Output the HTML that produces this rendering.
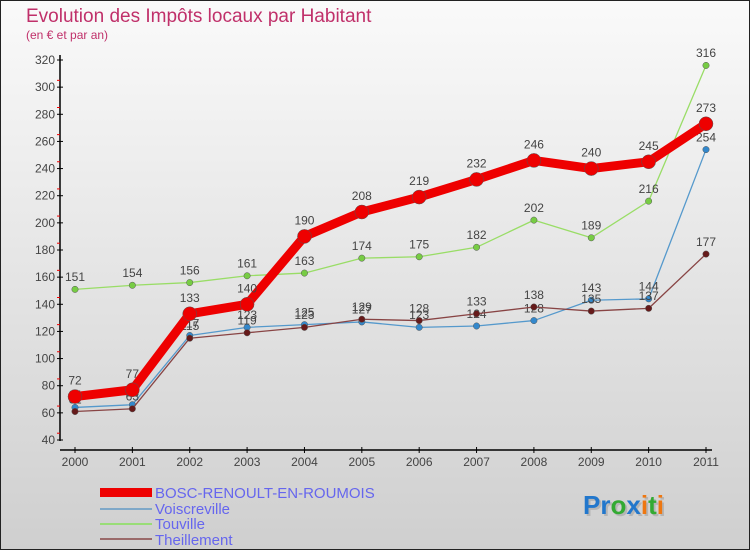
<!DOCTYPE html>
<html><head><meta charset="utf-8"><style>
body{margin:0}
svg{display:block;font-family:"Liberation Sans",sans-serif}
</style></head><body>
<svg id="chart" width="750" height="550" viewBox="0 0 750 550" xmlns="http://www.w3.org/2000/svg">
<defs><linearGradient id="bg" x1="0" y1="0" x2="0" y2="1"><stop offset="0" stop-color="#fafafa"/><stop offset="1" stop-color="#cfcfcf"/></linearGradient></defs>
<rect x="0.5" y="0.5" width="749" height="549" fill="url(#bg)" stroke="#222"/>
<text x="26" y="22" font-size="19" fill="#c0306a">Evolution des Impôts locaux par Habitant</text>
<text x="26" y="39" font-size="12" fill="#c0306a">(en € et par an)</text>
<g id="axes"></g>
<g id="series"></g>
<g id="legend">
<rect x="100" y="488" width="52" height="9" fill="#ee0000"/>
<text x="155" y="498" font-size="15" fill="#6666ee">BOSC-RENOULT-EN-ROUMOIS</text>
<line x1="100" y1="509" x2="152" y2="509" stroke="#7fa8c8" stroke-width="2"/>
<text x="155" y="514" font-size="15" fill="#6666ee">Voiscreville</text>
<line x1="100" y1="524" x2="152" y2="524" stroke="#99dd77" stroke-width="2"/>
<text x="155" y="529" font-size="15" fill="#6666ee">Touville</text>
<line x1="100" y1="539" x2="152" y2="539" stroke="#9a6a6a" stroke-width="2"/>
<text x="155" y="545" font-size="15" fill="#6666ee">Theillement</text>
</g>
<g font-size="26" font-weight="bold">
<text x="585" y="516" fill="#999" opacity="0.5">Proxiti</text>
<text x="583" y="514"><tspan fill="#2277cc">Pr</tspan><tspan fill="#33aa33">o</tspan><tspan fill="#2277cc">x</tspan><tspan fill="#ee7711">i</tspan><tspan fill="#33aa33">t</tspan><tspan fill="#ee7711">i</tspan></text>
</g>
</svg>
<script>
const years = ["2000","2001","2002","2003","2004","2005","2006","2007","2008","2009","2010","2011"];
const yTicks = [40,60,80,100,120,140,160,180,200,220,240,260,280,300,320];
const bosc = [72,77,133,140,190,208,219,232,246,240,245,273];
const voiscreville = [64,66,117,123,125,127,123,124,128,143,144,254];
const touville = [151,154,156,161,163,174,175,182,202,189,216,316];
const theillement = [61,63,115,119,123,129,128,133,138,135,137,177];

const NS="http://www.w3.org/2000/svg";
function xPos(i){return 75+i*(706-75)/11;}
function yPos(v){return 440-(v-40)*380/280;}
function mk(tag,attrs,parent){const e=document.createElementNS(NS,tag);for(const k in attrs)e.setAttribute(k,attrs[k]);parent.appendChild(e);return e;}
const axes=document.getElementById('axes');
const ya=mk('line',{x1:60,y1:55,x2:60,y2:441,stroke:'#000','stroke-width':1.5},axes);


const xa=mk('line',{x1:60,y1:450,x2:712,y2:450,stroke:'#000','stroke-width':1.5},axes);


yTicks.forEach((t,i)=>{
  const y=yPos(t);
  mk('line',{x1:57,y1:y,x2:63,y2:y,stroke:'#000'},axes);
  if(i<yTicks.length-1){mk('line',{x1:57,y1:y-6.8,x2:60,y2:y-6.8,stroke:'#e00'},axes);}
  const tx=mk('text',{x:55,y:y+4,'font-size':12,fill:'#444','text-anchor':'end'},axes);
  tx.textContent=t;
  
  
});
years.forEach((yr,i)=>{
  const x=xPos(i);
  mk('line',{x1:x,y1:447,x2:x,y2:453,stroke:'#000'},axes);
  const tx=mk('text',{x:x,y:466,'font-size':12,fill:'#444','text-anchor':'middle'},axes);
  tx.textContent=yr;
  
  
});
const sg=document.getElementById('series');
function drawSeries(vals,name,color,lw,r,dot){
  const g=mk('g',{},sg);
  
  
  const pts=vals.map((v,i)=>xPos(i)+','+yPos(v)).join(' ');
  const pl=mk('polyline',{points:pts,fill:'none',stroke:color,'stroke-width':lw,'stroke-linejoin':'round'},g);
  
  
  vals.forEach((v,i)=>{
    const c=mk('circle',{cx:xPos(i),cy:yPos(v),r:r,fill:dot,stroke:'#555','stroke-width':0.5},g);
    
    
    const t=mk('text',{x:xPos(i),y:yPos(v)-r-5,'font-size':12,fill:'#444','text-anchor':'middle'},g);
    t.textContent=v;
    
    
  });
}
drawSeries(touville,'touville','#99dd66',1.3,3.2,'#77cc44');
drawSeries(voiscreville,'voiscreville','#5599cc',1.3,3.2,'#3388cc');
drawSeries(theillement,'theillement','#884444',1.3,3.2,'#661a1a');
drawSeries(bosc,'bosc','#ee0000',9,7,'#ee0000');
</script>
</body></html>
